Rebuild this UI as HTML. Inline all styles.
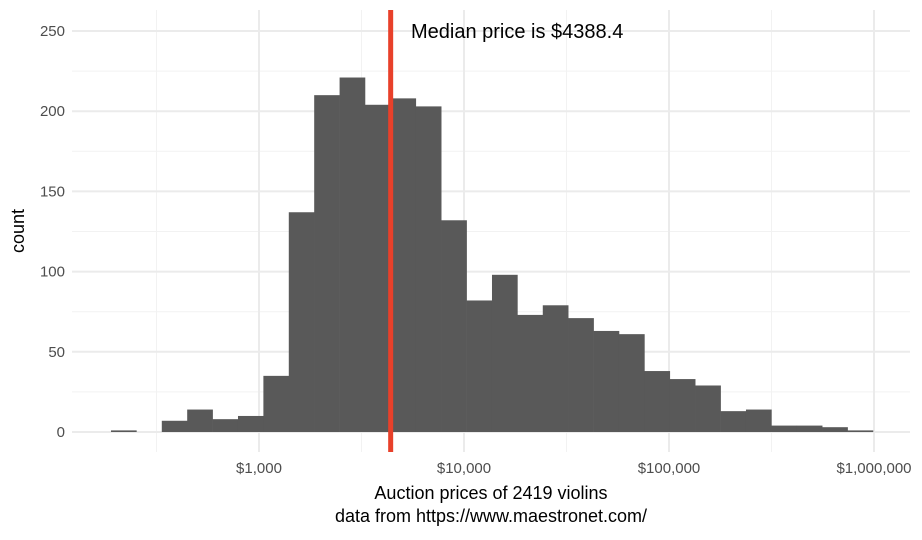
<!DOCTYPE html>
<html><head><meta charset="utf-8"><style>
body{margin:0;background:#fff;font-family:"Liberation Sans",Arial,sans-serif}
</style></head><body>
<svg id="chart" width="922" height="535" xmlns="http://www.w3.org/2000/svg"></svg>
<script>
const binCounts=[1,0,7,14,8,10,35,137,210,221,204,208,203,132,82,98,73,79,71,63,61,38,33,29,13,14,4,4,3,1];
const binStartLog=2.278;
const binWidthLog=0.1239;
const medianPrice=4388.4;
const yTicks=[0,50,100,150,200,250];
const xTickLogs=[3,4,5,6];
const xTickLabels=["$1,000","$10,000","$100,000","$1,000,000"];
const NS="http://www.w3.org/2000/svg";
const svg=document.getElementById('chart');
const X=l=>259+(l-3)*205;
const Y=c=>432-c*1.604;
const L=72,R=910,T=10,B=452;
function mk(t,a,p){const e=document.createElementNS(NS,t);for(const k in a)e.setAttribute(k,a[k]);(p||svg).appendChild(e);return e;}
for(let l=2.5;l<=6.5;l+=1){const x=X(l);if(x>L&&x<R){const g=mk('line',{x1:x,x2:x,y1:T,y2:B,stroke:'#f2f2f2','stroke-width':1});}}
for(let c=25;c<=275;c+=50){const y=Y(c);if(y>T){const g=mk('line',{x1:L,x2:R,y1:y,y2:y,stroke:'#f2f2f2','stroke-width':1});}}
xTickLogs.forEach(l=>{const g=mk('line',{x1:X(l),x2:X(l),y1:T,y2:B,stroke:'#ebebeb','stroke-width':2});});
yTicks.forEach(c=>{const g=mk('line',{x1:L,x2:R,y1:Y(c),y2:Y(c),stroke:'#ebebeb','stroke-width':2});
const t=mk('text',{x:65,y:Y(c)+5,'text-anchor':'end','font-size':15,fill:'#4d4d4d'});t.textContent=c;});
xTickLogs.forEach((l,i)=>{const t=mk('text',{x:X(l),y:473,'text-anchor':'middle','font-size':15,fill:'#4d4d4d'});t.textContent=xTickLabels[i];});
binCounts.forEach((c,i)=>{if(c<=0)return;const x0=X(binStartLog+i*binWidthLog),x1=X(binStartLog+(i+1)*binWidthLog);
const r=mk('rect',{x:x0,y:Y(c),width:x1-x0+0.3,height:Y(0)-Y(c),fill:'#595959'});});
const mx=X(Math.log10(medianPrice));
const ml=mk('line',{x1:mx,x2:mx,y1:T,y2:B,stroke:'#e8402a','stroke-width':5});
const an=mk('text',{x:411,y:38,'font-size':20,fill:'#000'});an.textContent='Median price is $'+medianPrice;
const xt=mk('text',{x:491,y:499,'text-anchor':'middle','font-size':18,fill:'#000'});xt.textContent='Auction prices of 2419 violins';
const xt2=mk('text',{x:491,y:522,'text-anchor':'middle','font-size':18,fill:'#000'});xt2.textContent='data from https://www.maestronet.com/';
const yt=mk('text',{x:0,y:0,'text-anchor':'middle','font-size':18,fill:'#000',transform:'translate(24,231) rotate(-90)'});yt.textContent='count';
</script>
</body></html>
